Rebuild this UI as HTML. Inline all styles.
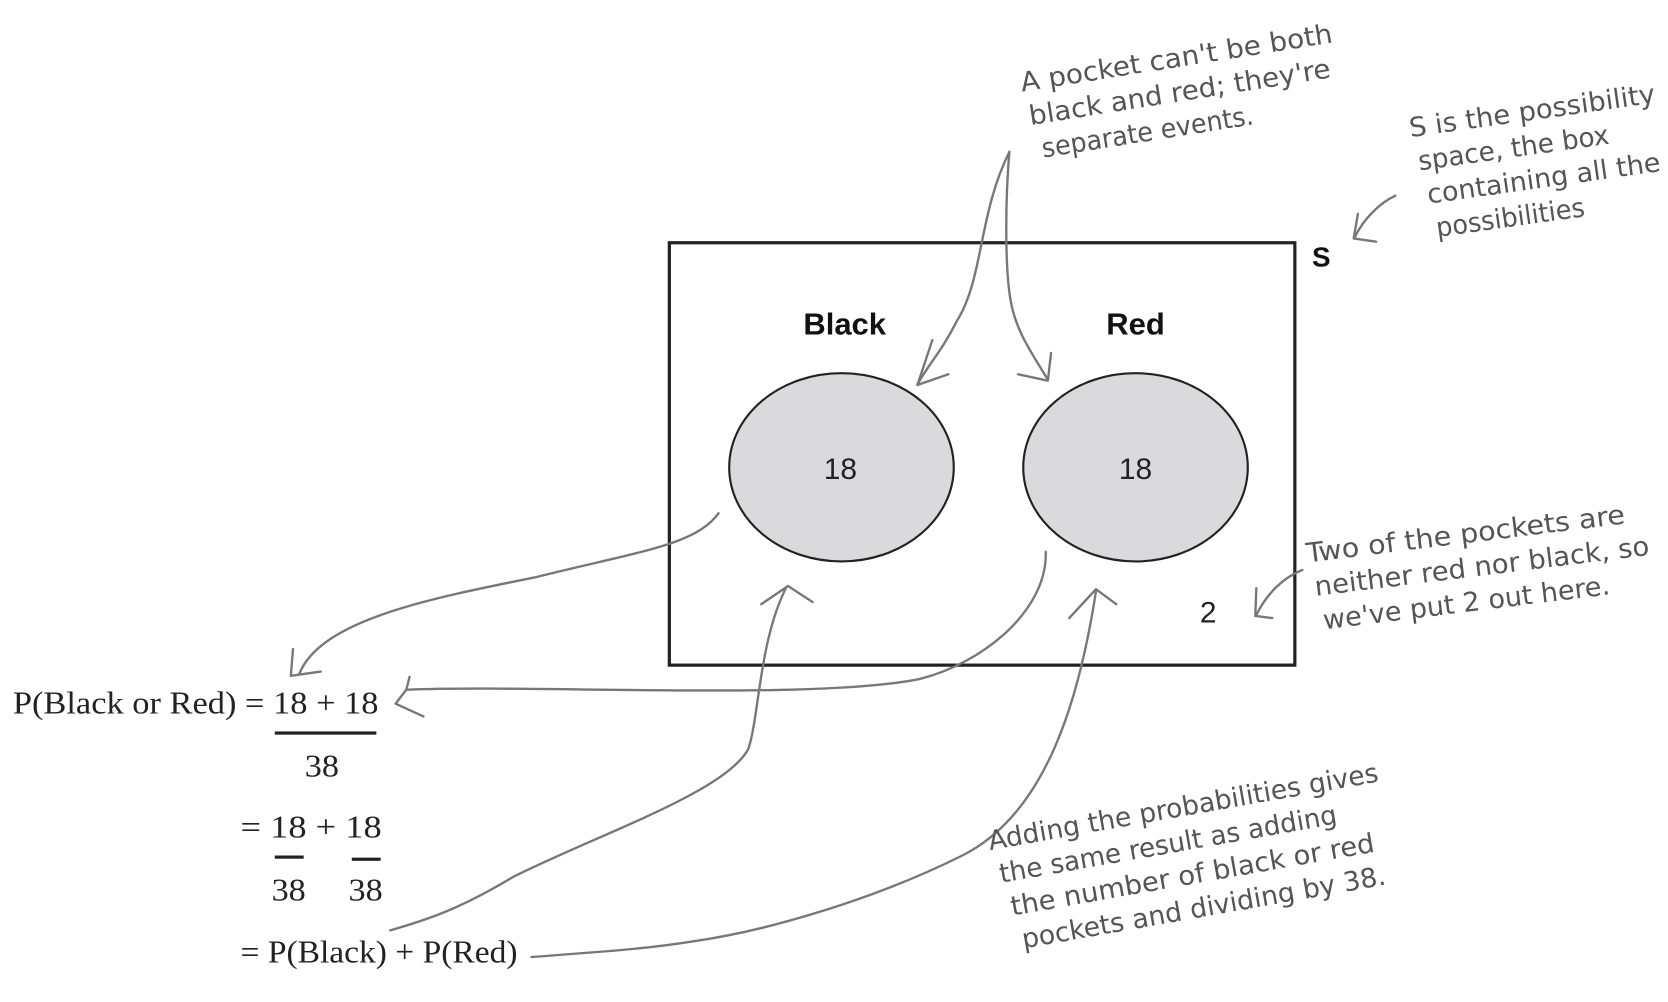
<!DOCTYPE html>
<html><head><meta charset="utf-8"><style>
html,body{margin:0;padding:0;background:#fff;width:1668px;height:1002px;overflow:hidden}
svg{display:block}
.hw{font-family:"DejaVu Sans Condensed","DejaVu Sans","Liberation Sans",sans-serif;fill:#555;font-size:25px}
.ar{fill:none;stroke:#777;stroke-width:2.2;stroke-linecap:round;stroke-linejoin:round}
.sf{font-family:"Liberation Serif",serif;font-size:30px;fill:#222}
</style></head><body>
<svg width="1668" height="1002" viewBox="0 0 1560 937" preserveAspectRatio="none">
<rect x="626" y="227" width="585" height="395" fill="none" stroke="#222" stroke-width="3"/>
<text x="1227" y="249" font-family="Liberation Sans,sans-serif" font-weight="bold" font-size="26" fill="#111">S</text>
<text x="790" y="313" text-anchor="middle" font-family="Liberation Sans,sans-serif" font-weight="bold" font-size="29" fill="#111">Black</text>
<text x="1062" y="313" text-anchor="middle" font-family="Liberation Sans,sans-serif" font-weight="bold" font-size="29" fill="#111">Red</text>
<ellipse cx="787" cy="437" rx="105" ry="88" fill="#dadadc" stroke="#222" stroke-width="2"/>
<ellipse cx="1062" cy="437" rx="105" ry="88" fill="#dadadc" stroke="#222" stroke-width="2"/>
<text x="786" y="448" text-anchor="middle" font-family="Liberation Sans,sans-serif" font-size="28" fill="#222">18</text>
<text x="1062" y="448" text-anchor="middle" font-family="Liberation Sans,sans-serif" font-size="28" fill="#222">18</text>
<text x="1130" y="582" text-anchor="middle" font-family="Liberation Sans,sans-serif" font-size="28" fill="#222">2</text>

<g>
<text class="sf" x="12" y="667" textLength="342" lengthAdjust="spacingAndGlyphs">P(Black or Red) = 18 + 18</text>
<rect x="257" y="684" width="95" height="3" fill="#222"/>
<text class="sf" x="285" y="726" textLength="32" lengthAdjust="spacingAndGlyphs">38</text>
<text class="sf" x="225" y="783" textLength="132" lengthAdjust="spacingAndGlyphs">= 18 + 18</text>
<rect x="257" y="800" width="27" height="3" fill="#222"/>
<rect x="329" y="802" width="27" height="3" fill="#222"/>
<text class="sf" x="254" y="842" textLength="32" lengthAdjust="spacingAndGlyphs">38</text>
<text class="sf" x="326" y="842" textLength="32" lengthAdjust="spacingAndGlyphs">38</text>
<text class="sf" x="225" y="900" textLength="259" lengthAdjust="spacingAndGlyphs">= P(Black) + P(Red)</text>
</g>

<g>
<path class="ar" d="M944 142 C915 200 920 260 895 300 C880 330 865 345 858 360"/>
<path class="ar" d="M872 318 L858 360 L887 350"/>
<path class="ar" d="M944 142 C940 190 940 250 945 280 C950 310 965 330 980 355"/>
<path class="ar" d="M983 330 L980 356 L952 350"/>
<path class="ar" d="M1305 183 C1290 190 1275 205 1267 222"/>
<path class="ar" d="M1270 200 L1266 223 L1287 226"/>
<path class="ar" d="M1218 533 C1200 540 1185 555 1175 575"/>
<path class="ar" d="M1175 550 L1174 576 L1190 578"/>
<path class="ar" d="M672 480 C650 510 600 515 500 540 C400 560 300 580 280 630"/>
<path class="ar" d="M274 607 L272 632 L300 628"/>
<path class="ar" d="M978 516 C980 570 920 620 860 635 C760 655 500 640 380 645"/>
<path class="ar" d="M380 645 L370 658 L396 670 M380 645 L383 633"/>
<path class="ar" d="M365 870 C400 860 430 850 480 820 C560 780 680 740 700 700 C710 670 710 600 735 550"/>
<path class="ar" d="M712 565 L737 548 L760 563"/>
<path class="ar" d="M497 895 C560 890 600 888 650 880 C720 870 820 840 900 800 C980 760 1010 650 1025 553"/>
<path class="ar" d="M1000 578 L1025 551 L1044 565"/>
</g>

<g class="hw" transform="rotate(-9 960 80)">
<text x="955" y="85" textLength="295" lengthAdjust="spacingAndGlyphs">A pocket can't be both</text>
<text x="958" y="117" textLength="285" lengthAdjust="spacingAndGlyphs">black and red; they're</text>
<text x="965" y="149" textLength="200" lengthAdjust="spacingAndGlyphs">separate events.</text>
</g>
<g class="hw" transform="rotate(-8 1320 120)">
<text x="1318" y="128" textLength="232" lengthAdjust="spacingAndGlyphs">S is the possibility</text>
<text x="1322" y="160" textLength="180" lengthAdjust="spacingAndGlyphs">space, the box</text>
<text x="1326" y="192" textLength="220" lengthAdjust="spacingAndGlyphs">containing all the</text>
<text x="1330" y="224" textLength="140" lengthAdjust="spacingAndGlyphs">possibilities</text>
</g>
<g class="hw" transform="rotate(-7 1222 520)">
<text x="1222" y="526" textLength="300" lengthAdjust="spacingAndGlyphs">Two of the pockets are</text>
<text x="1226" y="558" textLength="315" lengthAdjust="spacingAndGlyphs">neither red nor black, so</text>
<text x="1230" y="590" textLength="270" lengthAdjust="spacingAndGlyphs">we've put 2 out here.</text>
</g>
<g class="hw" transform="rotate(-10 925 790)">
<text x="925" y="795" textLength="370" lengthAdjust="spacingAndGlyphs">Adding the probabilities gives</text>
<text x="930" y="827" textLength="320" lengthAdjust="spacingAndGlyphs">the same result as adding</text>
<text x="935" y="859" textLength="345" lengthAdjust="spacingAndGlyphs">the number of black or red</text>
<text x="940" y="891" textLength="345" lengthAdjust="spacingAndGlyphs">pockets and dividing by 38.</text>
</g>
</svg>
</body></html>
